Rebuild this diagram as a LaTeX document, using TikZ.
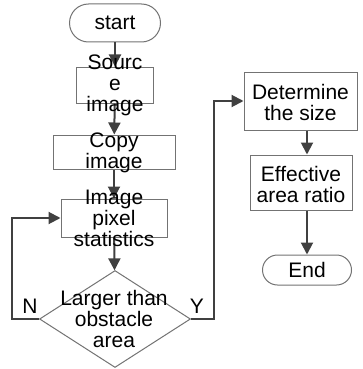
\documentclass[tikz,border=0pt]{standalone}
\usepackage{fontspec}
\setmainfont{Liberation Sans}
\usetikzlibrary{arrows.meta,shapes.geometric}
\begin{document}
\begin{tikzpicture}[x=1pt,y=-1pt,
  font=\fontsize{21}{21}\selectfont,
  boxshape/.style={draw=black!55, line width=1pt, inner sep=0pt, fill=white},
  term/.style={boxshape},
  txt/.style={align=center, inner sep=0pt, text=black},
  conn/.style={draw=black!75, line width=2pt, -{Triangle[length=12pt,width=12pt]}}]
\useasboundingbox (0,0) rectangle (362,369);
% nodes
\node[term, rounded corners=19pt, minimum width=91pt, minimum height=38pt] (start) at (115,23) {};
\node[txt] (starttxt) at (start.center) {start};
\node[boxshape, minimum width=77pt, minimum height=36pt] (src) at (115,85) {};
\node[boxshape, minimum width=122pt, minimum height=34pt] (copy) at (114,152) {};
\node[boxshape, minimum width=106pt, minimum height=38pt] (pix) at (114,218) {};
\node[boxshape, diamond, minimum width=151pt, minimum height=97pt] (dia) at (115,319) {};
\node[boxshape, minimum width=113pt, minimum height=58pt] (det) at (300.5,101) {};
\node[boxshape, minimum width=102pt, minimum height=55pt] (eff) at (301,182.5) {};
\node[term, rounded corners=15pt, minimum width=89pt, minimum height=30pt] (end) at (307,270) {};
% connectors
\draw[conn] (start) -- (src);
\draw[conn] (src) -- (copy);
\draw[conn] (copy) -- (pix);
\draw[conn] (pix) -- (dia);
\draw[conn] (dia.west) -- ++(-27,0) |- (pix.west);
\draw[conn] (dia.east) -- ++(23,0) |- (det.west);
\draw[conn] (det.south -| end.north) -- (eff.north -| end.north);
\draw[conn] (eff.south -| end.north) -- (end.north);
% texts
\node[txt] (srctxt) at (115,85) {Sourc\\e\\image};
\node[txt] (copytxt) at (114,153) {Copy\\image};
\node[txt] (pixtxt) at (114,218) {Image\\pixel\\statistics};
\node[txt] (diatxt) at (114,319) {Larger than\\obstacle\\area};
\node[txt] (dettxt) at (300.5,102) {Determine\\the size};
\node[txt] (efftxt) at (301,184) {Effective\\area ratio};
\node[txt] (endtxt) at (end.center) {End};
\node[txt] (nlab) at (30,306) {N};
\node[txt] (ylab) at (197,306) {Y};
\end{tikzpicture}
\end{document}
